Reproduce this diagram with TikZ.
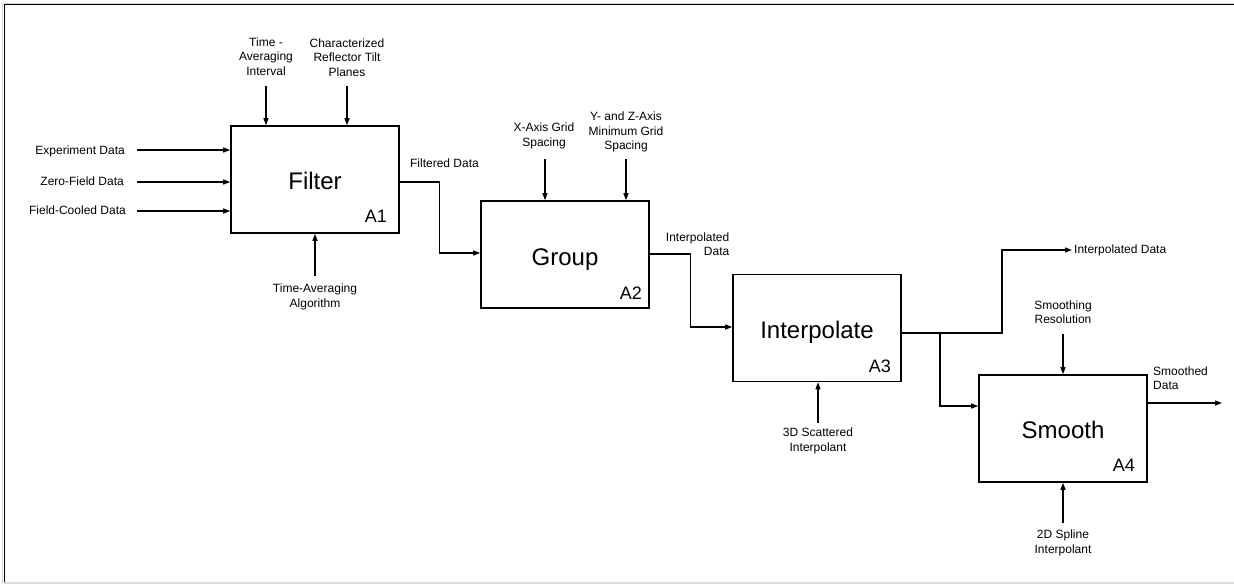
\documentclass[tikz,border=0pt]{standalone}
\usepackage{fontspec}
\setmainfont{Liberation Sans}
\usetikzlibrary{arrows.meta}
\begin{document}
\begin{tikzpicture}[x=1pt,y=-1pt,
  proc/.style={draw, line width=1.6pt, minimum width=168pt, minimum height=107pt, inner sep=0pt},
  title/.style={font=\fontsize{24}{24}\selectfont, text height=17pt, text depth=0pt, inner sep=0pt},
  idx/.style={font=\fontsize{18}{18}\selectfont, anchor=base east, inner sep=0pt},
  lbl/.style={font=\fontsize{12}{14.5}\selectfont, align=center, inner sep=0pt},
  flow/.style={line width=1.2pt, -{Triangle[length=7pt,width=5pt]}},
  plain/.style={line width=1.2pt}
]
\useasboundingbox (0,0) rectangle (1234,584);
% frame
\draw[gray!30, line width=1pt] (2.5,584) -- (2.5,3) -- (1234,3);
\draw[black, line width=1.3pt] (4.5,583) -- (4.5,4.7) -- (1234,4.7);
\draw[gray!30, line width=1.2pt] (4,583) -- (1234,583);

% boxes
\node[proc] (f) at (315,179.5) {};
\node[proc] (g) at (565,254.5) {};
\node[proc] (i) at (817,328) {};
\node[proc] (s) at (1063,428.5) {};

\node[title] (ft) at (315,181) {Filter};
\node[title] (gt) at (565,256.5) {Group};
\node[title] (it) at (817,329.5) {Interpolate};
\node[title] (st) at (1063,430) {Smooth};

\node[idx] (fa) at (387,222) {A1};
\node[idx] (ga) at (642,299) {A2};
\node[idx] (ia) at (891,372) {A3};
\node[idx] (sa) at (1135,471) {A4};

% Filter inputs
\node[lbl, anchor=east] (l1) at (125,151) {Experiment Data};
\node[lbl, anchor=east] (l2) at (124,181) {Zero-Field Data};
\node[lbl, anchor=east] (l3) at (126,210) {Field-Cooled Data};
\coordinate (i1) at (137,150);
\coordinate (i2) at (137,182);
\coordinate (i3) at (137,211);
\draw[flow] (i1) -- (i1 -| f.west);
\draw[flow] (i2) -- (i2 -| f.west);
\draw[flow] (i3) -- (i3 -| f.west);

% Filter controls
\node[lbl] (c1l) at (266,56.5) {Time -\\Averaging\\Interval};
\node[lbl] (c2l) at (347,57.5) {Characterized\\Reflector Tilt\\Planes};
\coordinate (c1) at (266,86);
\coordinate (c2) at (347,86);
\draw[flow] (c1) -- (c1 |- f.north);
\draw[flow] (c2) -- (c2 |- f.north);

% Filter mechanism
\node[lbl] (m1l) at (315,297) {Time-Averaging\\Algorithm};
\coordinate (m1) at (315,276);
\draw[flow] (m1) -- (m1 |- f.south);

% Filtered data
\node[lbl] (fdl) at (444.5,163) {Filtered Data};
\draw[flow] ([yshift=-2.5pt]f.east) -- ++(40,0) |- ([yshift=1.5pt]g.west);

% Group controls
\node[lbl] (c3l) at (544,136) {X-Axis Grid\\Spacing};
\node[lbl] (c4l) at (626,132) {Y- and Z-Axis\\Minimum Grid\\Spacing};
\coordinate (c3) at (545,159);
\coordinate (c4) at (626,159);
\draw[flow] (c3) -- (c3 |- g.north);
\draw[flow] (c4) -- (c4 |- g.north);

% Interpolated data (to A3)
\node[lbl, align=right, anchor=east] (idl) at (729.5,244) {Interpolated\\Data};
\draw[flow] ([yshift=0.5pt]g.east) -- ++(41,0) |- ([yshift=1pt]i.west);

% Interpolate mechanism
\node[lbl] (m3l) at (818,441) {3D Scattered\\Interpolant};
\coordinate (m3) at (818,423);
\draw[flow] (m3) -- (m3 |- i.south);

% Interpolate outputs
\coordinate (j) at (940,333);
\coordinate (o1) at (1072,250);
\node[lbl, anchor=west] (o1l) at (1074,250.5) {Interpolated Data};
\draw[flow] ([yshift=-5pt]i.east) -| (1002,250) -- (o1);
\draw[flow] (j) |- ([yshift=22.5pt]s.west);

% Smooth control
\node[lbl] (c5l) at (1063,312) {Smoothing\\Resolution};
\coordinate (c5) at (1063,334);
\draw[flow] (c5) -- (c5 |- s.north);

% Smoothed data
\node[lbl, align=left, anchor=west] (sdl) at (1153,378) {Smoothed\\Data};
\coordinate (o2) at (1222,403);
\draw[flow] ([yshift=25.5pt]s.east) -- (o2);

% Smooth mechanism
\node[lbl] (m4l) at (1063,543) {2D Spline\\Interpolant};
\coordinate (m4) at (1063,523);
\draw[flow] (m4) -- (m4 |- s.south);
\end{tikzpicture}
\end{document}
